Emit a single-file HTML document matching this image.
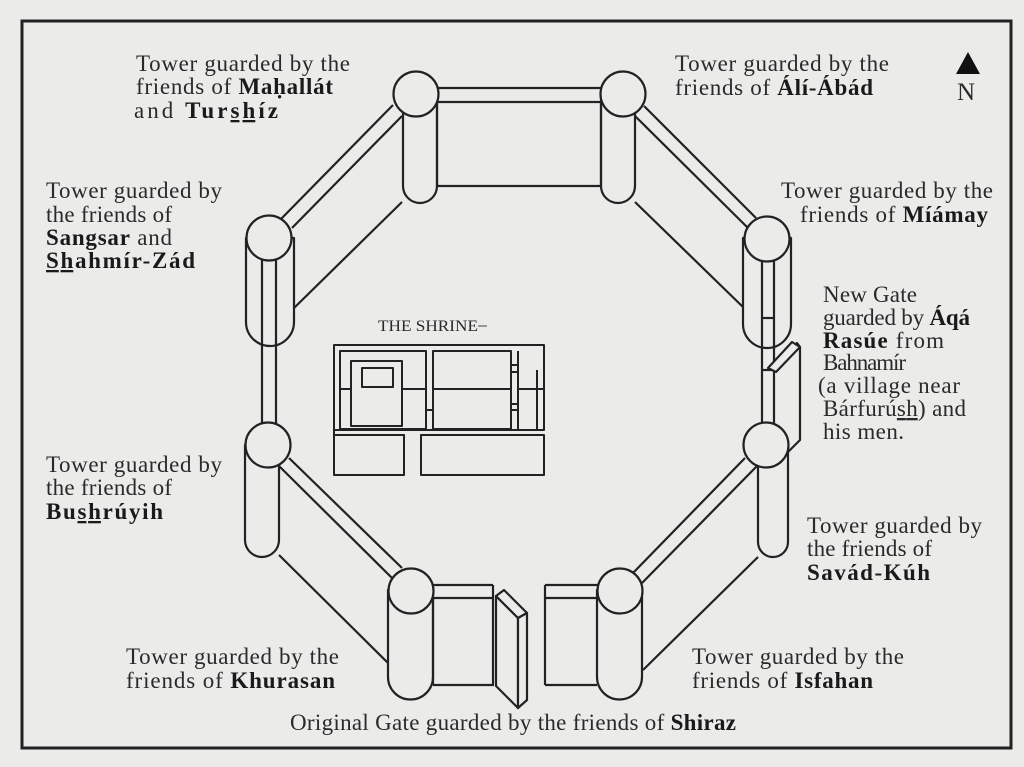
<!DOCTYPE html>
<html><head><meta charset="utf-8"><style>
html,body{margin:0;padding:0;background:#ebebea;}
svg{display:block}
text{font-family:"Liberation Serif",serif;font-size:23px;fill:#2a2a2a}
.b{font-weight:bold;fill:#1a1a1a}
.u{text-decoration:underline}
</style></head><body>
<svg width="1024" height="767" viewBox="0 0 1024 767" xmlns="http://www.w3.org/2000/svg">
<rect width="1024" height="767" fill="#ebebea"/>
<rect x="22" y="21" width="989" height="727" fill="none" stroke="#222" stroke-width="3"/>
<g stroke="#222" stroke-width="2.2" fill="none" stroke-linejoin="round">
<line x1="437" y1="186" x2="601" y2="186"/>
<line x1="402" y1="202" x2="294" y2="308"/>
<line x1="635" y1="202" x2="744" y2="308"/>
<line x1="279" y1="555" x2="388" y2="663"/>
<line x1="643" y1="670" x2="758" y2="557"/>
<g fill="#ebebea">
<path d="M403 95 V186 A17 17 0 0 0 437 186 V95 Z"/>
<path d="M601 95 V186 A17 17 0 0 0 635 186 V95 Z"/>
<path d="M246 238 V322 A24 24 0 0 0 294 322 V238 Z"/>
<path d="M245 445 V540 A17 17 0 0 0 279 540 V445 Z"/>
<path d="M388 590 V677 A22.5 22.5 0 0 0 433 677 V590 Z"/>
<path d="M597 590 V677 A22.5 22.5 0 0 0 642 677 V590 Z"/>
<path d="M743 238 V324 A24 24 0 0 0 791 324 V238 Z"/>
<path d="M758 445 V542 A15 15 0 0 0 788 542 V445 Z"/>
</g>
<line x1="415" y1="88" x2="623" y2="88"/>
<line x1="415" y1="102" x2="623" y2="102"/>
<line x1="437" y1="102" x2="437" y2="186"/>
<line x1="601" y1="102" x2="601" y2="186"/>
<line x1="393" y1="105" x2="281" y2="219"/>
<line x1="402" y1="116" x2="292" y2="228"/>
<line x1="644" y1="106" x2="756" y2="218"/>
<line x1="635" y1="116" x2="747" y2="227"/>
<line x1="289" y1="458" x2="402" y2="568"/>
<line x1="279" y1="466" x2="392" y2="578"/>
<line x1="633" y1="573" x2="745" y2="458"/>
<line x1="642" y1="583" x2="757" y2="466"/>
<line x1="262" y1="250" x2="262" y2="430"/>
<line x1="276" y1="250" x2="276" y2="430"/>
<line x1="762" y1="250" x2="762" y2="430"/>
<line x1="774" y1="250" x2="774" y2="430"/>
<line x1="762" y1="318" x2="774" y2="318"/>
<line x1="762" y1="370" x2="774" y2="370"/>
<path d="M774 367 L797 343 L800 347 L800 440 L788 452" fill="#ebebea"/>
<path d="M768 368 L792 342 L800 347 L776 372 Z" fill="#ebebea"/>
<line x1="411" y1="585" x2="493" y2="585"/>
<line x1="411" y1="598" x2="493" y2="598"/>
<line x1="433" y1="598" x2="433" y2="685"/>
<line x1="433" y1="685" x2="494" y2="685"/>
<line x1="493" y1="585" x2="493" y2="685"/>
<line x1="545" y1="585" x2="620" y2="585"/>
<line x1="545" y1="598" x2="620" y2="598"/>
<line x1="545" y1="585" x2="545" y2="685"/>
<line x1="545" y1="685" x2="597" y2="685"/>
<path d="M496 596 L518 618 L518 708 L496 686 Z" fill="#ebebea"/>
<path d="M496 596 L504 590 L527 613 L518 618 Z" fill="#ebebea"/>
<path d="M518 618 L527 613 L527 700 L518 708 Z" fill="#ebebea"/>
<g fill="#ebebea">
<circle cx="416" cy="94" r="22.5"/>
<circle cx="623" cy="94" r="22.5"/>
<circle cx="767" cy="239" r="22.5"/>
<circle cx="766" cy="445" r="22.5"/>
<circle cx="620" cy="591" r="22.5"/>
<circle cx="411" cy="591" r="22.5"/>
<circle cx="268" cy="445" r="22.5"/>
<circle cx="269" cy="238" r="22.5"/>
</g>
<g stroke-width="2">
<rect x="334" y="345" width="210" height="85"/>
<rect x="340" y="351" width="86" height="78"/>
<rect x="351" y="361" width="51" height="65"/>
<rect x="362" y="368" width="31" height="19"/>
<line x1="340" y1="389" x2="351" y2="389"/>
<line x1="402" y1="389" x2="426" y2="389"/>
<rect x="433" y="351" width="78" height="78"/>
<line x1="433" y1="389" x2="511" y2="389"/>
<line x1="518" y1="351" x2="518" y2="429"/>
<line x1="518" y1="389" x2="544" y2="389"/>
<line x1="511" y1="365" x2="518" y2="365"/>
<line x1="511" y1="372" x2="518" y2="372"/>
<line x1="511" y1="404" x2="518" y2="404"/>
<line x1="511" y1="410" x2="518" y2="410"/>
<line x1="537" y1="370" x2="537" y2="429"/>
<line x1="426" y1="410" x2="433" y2="410"/>
<line x1="334" y1="430" x2="334" y2="475"/>
<rect x="334" y="435" width="70" height="40"/>
<rect x="421" y="435" width="123" height="40"/>
</g>
</g>
<polygon points="968,52 956,74 980,74" fill="#111"/>
<text x="957" y="100" style="font-size:25px">N</text>
<text x="378" y="331" style="font-size:16px" textLength="100" lengthAdjust="spacingAndGlyphs">THE SHRINE</text>
<line x1="478" y1="326" x2="487" y2="326" stroke="#444" stroke-width="1"/>
<text x="136" y="71" textLength="214">Tower guarded by the</text>
<text x="136" y="94" textLength="197">friends of <tspan class="b">Maḥallát</tspan></text>
<text x="134" y="118" textLength="144">and <tspan class="b">Tur<tspan class="u">sh</tspan>íz</tspan></text>
<text x="675" y="71" textLength="214">Tower guarded by the</text>
<text x="675" y="95" textLength="198">friends of <tspan class="b">Álí-Ábád</tspan></text>
<text x="781" y="198" textLength="212">Tower guarded by the</text>
<text x="800" y="222" textLength="188">friends of <tspan class="b">Míámay</tspan></text>
<text x="46" y="198" textLength="176">Tower guarded by</text>
<text x="46" y="222" textLength="126">the friends of</text>
<text x="46" y="245" textLength="126"><tspan class="b">Sangsar</tspan> and</text>
<text x="46" y="268" textLength="149" class="b"><tspan class="u">Sh</tspan>ahmír-Zád</text>
<text x="823" y="302" textLength="94">New Gate</text>
<text x="823" y="325" textLength="147">guarded by <tspan class="b">Áqá</tspan></text>
<text x="823" y="348" textLength="121"><tspan class="b">Rasúe</tspan> from</text>
<text x="823" y="370" textLength="83">Bahnamír</text>
<text x="818" y="393" textLength="142">(a village near</text>
<text x="823" y="416" textLength="143">Bárfurú<tspan class="u">sh</tspan>) and</text>
<text x="823" y="439" textLength="81">his men.</text>
<text x="46" y="472" textLength="176">Tower guarded by</text>
<text x="46" y="495" textLength="126">the friends of</text>
<text x="46" y="519" textLength="117" class="b">Bu<tspan class="u">sh</tspan>rúyih</text>
<text x="807" y="533" textLength="175">Tower guarded by</text>
<text x="807" y="556" textLength="125">the friends of</text>
<text x="807" y="580" textLength="123" class="b">Savád-Kúh</text>
<text x="126" y="664" textLength="213">Tower guarded by the</text>
<text x="126" y="688" textLength="209">friends of <tspan class="b">Khurasan</tspan></text>
<text x="692" y="664" textLength="212">Tower guarded by the</text>
<text x="692" y="688" textLength="181">friends of <tspan class="b">Isfahan</tspan></text>
<text x="290" y="730" textLength="446">Original Gate guarded by the friends of <tspan class="b">Shiraz</tspan></text>
</svg>
</body></html>
